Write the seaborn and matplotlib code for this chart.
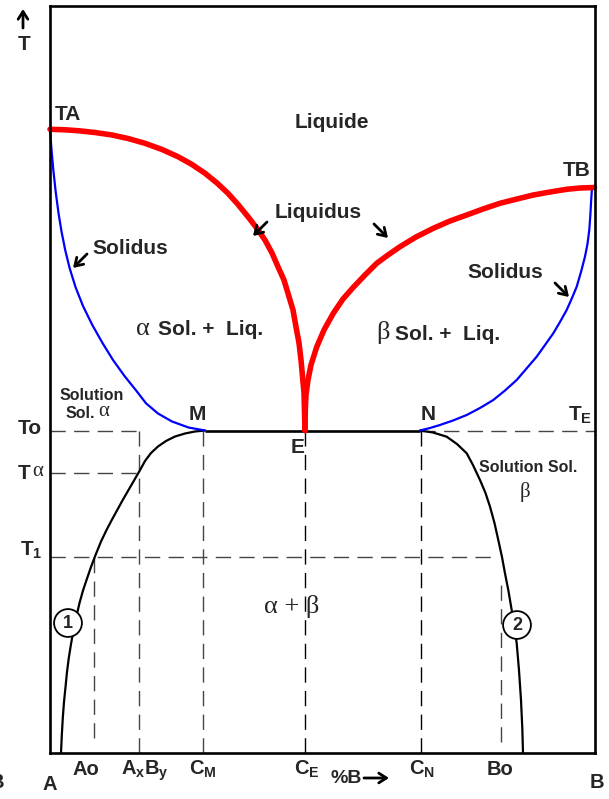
import numpy as np
import seaborn as sb
import matplotlib
matplotlib.use("Agg")
import matplotlib.pyplot as plt

# Diagramme de phases A-B avec eutectique : %B en abscisse, T en unites arbitraires

# liquidus (rouge)
liq_gauche_x = [0, 2.75, 5.14, 8.26, 11.39, 14.32, 17.45, 20.57, 23.51, 26.08, 28.47, 30.67, 32.69, 34.53,
                36.36, 38.02, 39.48, 40.77, 41.87, 42.97, 43.71, 44.63, 45.18, 45.73, 46.10, 46.65, 46.83]
liq_gauche_T = [623.7, 623.2, 622.3, 620.5, 618, 614.5, 609.7, 603.5, 596.3, 588.5, 579.7, 570, 559.7, 548.5,
                536.3, 524.5, 513, 500, 486.3, 473, 459.7, 443, 426, 410, 393, 360, 322.5]
liq_droite_x = [46.83, 46.89, 47.01, 47.38, 47.93, 48.98, 50.32, 52.03, 53.81, 55.70, 57.85, 60.00, 62.07,
                64.28, 67.22, 70.39, 73.46, 76.53, 79.52, 82.64, 85.76, 88.76, 91.83, 94.89, 97.33, 100.0]
liq_droite_T = [322.5, 343, 358, 373, 388, 406, 423, 439.7, 454, 465.7, 478, 489.7, 498,
                506.3, 516, 524.7, 532, 538, 544, 549.7, 554, 558, 561, 563.7, 565, 565.5]

# solidus (bleu)
sol_gauche_x = [0, 0.28, 0.61, 1.05, 1.56, 2.13, 2.79, 3.60, 4.68, 6.06, 7.77, 9.64, 11.57, 13.68,
                15.89, 17.63, 19.83, 22.41, 25.44, 28.47]
sol_gauche_T = [623.7, 603, 583, 561, 540, 521, 503, 485, 466, 447, 428, 410, 393, 377,
                362, 349.7, 339.5, 331.5, 325.5, 322.5]
sol_droite_x = [99.54, 99.39, 99.24, 99.04, 98.71, 98.25, 97.52, 96.73, 95.87, 94.89, 93.66, 92.43,
                90.91, 89.38, 87.60, 85.71, 83.56, 81.41, 78.97, 76.53, 74.01, 71.62, 69.79, 67.95]
sol_droite_T = [565, 553, 538, 523, 509, 496.3, 481, 466.3, 455, 443, 431, 419.7,
                408, 396.3, 385, 373, 362.5, 353, 345, 338, 332.5, 328, 325, 322.5]

# solvus (noir) : courbes 1 et 2
solvus1_x = [28.47, 26.63, 24.79, 22.96, 21.30, 19.83, 18.55, 17.45, 16.44, 15.43, 14.42, 13.41, 12.40,
             11.39, 10.38, 9.37, 8.36, 7.53, 6.80, 6.06, 5.42, 4.87, 4.32, 3.86, 3.45, 3.12, 2.85, 2.57,
             2.35, 2.17, 2.02]
solvus1_T = [322.5, 321.5, 319.5, 316.5, 312, 306.5, 300, 292, 282, 272.5, 263, 253.5, 243.5,
             233.5, 223, 211.5, 198, 186, 174.5, 162.5, 150, 137, 123, 109, 95, 81, 66, 51,
             35, 18, 0]
solvus2_x = [67.95, 70.34, 72.85, 74.74, 76.53, 77.68, 78.97, 79.98, 80.81, 81.63, 82.33, 83.01, 83.56,
             84.20, 84.79, 85.31, 85.71, 86.13, 86.50, 86.74, 86.87]
solvus2_T = [322.5, 320.5, 316.3, 309, 299.7, 288, 273, 260, 246.3, 230, 213, 196, 179.7,
             162, 143, 126, 109.7, 83, 53, 25, 0]

# temperatures et compositions remarquables
T_E = 322.5
T_alpha = 280.5
T_1 = 196
x_M, x_N = 28.47, 67.95
x_Ao, x_AxBy, x_CM, x_CE, x_CN, x_Bo = 8.1, 16.35, 28.1, 46.8, 68.1, 82.8
T1_fin = 81.2
Ao_bas, Bo_bas, Bo_haut = 15, 11, 171

W, H = 609, 799
sb.set_style("white")
plt.rcParams['font.family'] = ['Liberation Sans', 'DejaVu Sans']
plt.rcParams['mathtext.default'] = 'regular'
SERIF = ['Liberation Serif', 'DejaVu Serif']

fig = plt.figure(figsize=(W / 100, H / 100), dpi=100)
ax = fig.add_axes([50 / W, 46 / H, 544.5 / W, 747 / H])
ax.set_xlim(0, 100)
ax.set_ylim(0, 747)
ax.set_xticks([])
ax.set_yticks([])
for s in ax.spines.values():
    s.set_color("black")
    s.set_linewidth(1.9)

# lignes de rappel en tirets
tirets = dict(colors="#444444", linewidth=1.0, linestyles=(0, (11, 6)))
ax.hlines(T_E, 0, x_AxBy, **tirets)
ax.hlines(T_E, x_N, 100, **tirets)
ax.hlines(T_alpha, 0, x_AxBy, **tirets)
ax.hlines(T_1, 0, T1_fin, **tirets)
ax.vlines([x_AxBy, x_CM], 0, T_E, **tirets)
ax.vlines([x_CE, x_CN], 0, T_E, colors="black", linewidth=1.0, linestyles=(0, (11, 6)))
ax.vlines(x_Ao, Ao_bas, T_1, **tirets)
ax.vlines(x_Bo, Bo_bas, Bo_haut, **tirets)

# palier eutectique M-N
ax.plot([x_M, x_N], [T_E, T_E], color="black", linewidth=1.9, solid_capstyle="butt")

trait = dict(sort=False, estimator=None, ax=ax, clip_on=False, solid_joinstyle="round")
for xs, ts in [(solvus1_x, solvus1_T), (solvus2_x, solvus2_T)]:
    sb.lineplot(x=xs, y=ts, color="black", linewidth=1.6, **trait)
for xs, ts in [(sol_gauche_x, sol_gauche_T), (sol_droite_x, sol_droite_T)]:
    sb.lineplot(x=xs, y=ts, color="#0000ff", linewidth=1.6, **trait)
for xs, ts in [(liq_gauche_x, liq_gauche_T), (liq_droite_x, liq_droite_T)]:
    sb.lineplot(x=xs, y=ts, color="#ff0000", linewidth=4.0, solid_capstyle="round", **trait)


def lab(px, py, s, size=15, **kw):
    kw.setdefault("ha", "center")
    kw.setdefault("va", "center")
    kw.setdefault("fontweight", "bold")
    fig.text(px / W, 1 - py / H, s, fontsize=size, **kw)


def grec(px, py, s, size=19):
    lab(px, py, s, size, family=SERIF, fontweight="normal")


def fleche(x0, y0, x1, y1):
    ax.annotate("", xy=(x1 / W, 1 - y1 / H), xytext=(x0 / W, 1 - y0 / H),
                xycoords="figure fraction", textcoords="figure fraction",
                arrowprops=dict(arrowstyle="->,head_length=0.55,head_width=0.35",
                                lw=2, color="black", shrinkA=0, shrinkB=0))


fleche(23, 28, 23, 9)
lab(24, 45, "T")
lab(68, 114, "TA")
lab(577, 171, "TB")
lab(332, 122, "Liquide")
lab(318, 212, "Liquidus")
fleche(267, 222, 253, 236)
fleche(374, 224, 388, 238)
lab(130, 248, "Solidus")
fleche(87, 254, 73, 268)
lab(505, 273, "Solidus")
fleche(555, 283, 569, 297)

grec(143, 329, "α")
lab(158, 330, "Sol. +  Liq.", ha="left")
grec(383, 332, "β")
lab(395, 335, "Sol. +  Liq.", ha="left")

lab(92, 395, "Solution", 11.5)
lab(80, 413, "Sol.", 11.5)
grec(104, 411, "α", 15)
lab(528, 467, "Solution Sol.", 11.5)
grec(525, 492, "β", 15)

lab(197, 415, "M")
lab(428, 414, "N")
lab(298, 447, "E")
lab(580, 421, "T$_E$", va="baseline")
lab(30, 428, "To")
lab(24, 473, "T")
grec(38, 472, "α", 15)
lab(31, 556, "T$_1$", va="baseline")

grec(292, 607, "α + β")

cercle = dict(boxstyle="circle,pad=0.3", fc="white", ec="black", lw=1.3)
lab(68, 623, "1", 13, bbox=cercle)
lab(517, 625, "2", 13, bbox=cercle)

lab(86, 775, "Ao", 14.5, va="baseline")
lab(145, 775, "A$_x$B$_y$", 14.5, va="baseline")
lab(203, 775, "C$_M$", 14.5, va="baseline")
lab(307, 775, "C$_E$", 14.5, va="baseline")
lab(362, 783, "%B", 14, ha="right", va="baseline")
fleche(364, 778, 389, 778)
lab(422, 775, "C$_N$", 14.5, va="baseline")
lab(500, 775, "Bo", 14.5, va="baseline")
lab(50, 790, "A", 14.5, va="baseline")
lab(597, 788, "B", 14.5, va="baseline")
lab(-3, 788, "B", 14.5, va="baseline")

plt.savefig("out.png", dpi=100)
